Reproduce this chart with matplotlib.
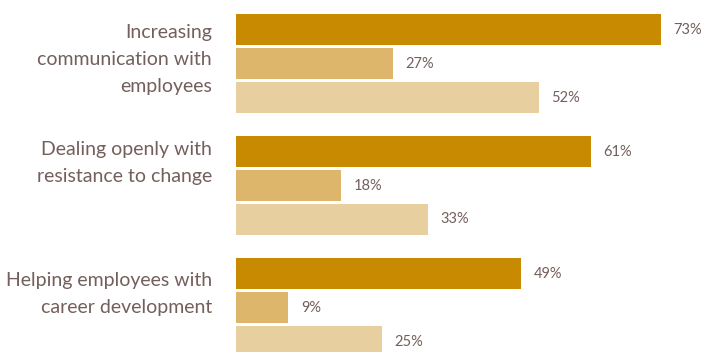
import matplotlib
matplotlib.use("Agg")
import matplotlib.pyplot as plt
import matplotlib.transforms as mtransforms

categories = [
    "Increasing\ncommunication with\nemployees",
    "Dealing openly with\nresistance to change",
    "Helping employees with\ncareer development",
]
series_a = [73, 61, 49]
series_b = [27, 18, 9]
series_c = [52, 33, 25]
value_labels = [[f"{v}%" for v in s] for s in (series_a, series_b, series_c)]

colors = ["#C78A00", "#DDB66B", "#E8CF9F"]
text_color = "#735F5B"

# layout (in units of group pitch)
bar_pitch = 34 / 122
bar_h = 31 / 122
label_offsets = [62.5 / 122, 30.5 / 122, 39.5 / 122]  # last-line baseline rel. to group's first bar centre

plt.rcParams["font.family"] = ["Lato", "DejaVu Sans"]

fig = plt.figure(figsize=(7.02, 3.52), dpi=100)
ax = fig.add_axes([236 / 702, 0, 466 / 702, 1])
ax.set_xlim(0, 466 / 5.822)
ax.set_ylim((352 - 29.5) / 122, -29.5 / 122)
ax.axis("off")

all_series = [series_a, series_b, series_c]
for i, (vals, col) in enumerate(zip(all_series, colors)):
    ys = [g + i * bar_pitch for g in range(len(categories))]
    ax.barh(ys, vals, height=bar_h, color=col, edgecolor="none")
    for y, v, lab in zip(ys, vals, value_labels[i]):
        ax.annotate(lab, xy=(v, y), xytext=(9, 0), textcoords="offset points",
                    va="center", ha="left", fontsize=10.5, color=text_color)

trans = mtransforms.blended_transform_factory(ax.transAxes, ax.transData)
for g, (cat, off) in enumerate(zip(categories, label_offsets)):
    ax.text(-24 / 466, g + off, cat, transform=trans, ha="right", va="baseline",
            fontsize=14, color=text_color, linespacing=1.7,
            multialignment="right")

fig.savefig("out.png", dpi=100)
